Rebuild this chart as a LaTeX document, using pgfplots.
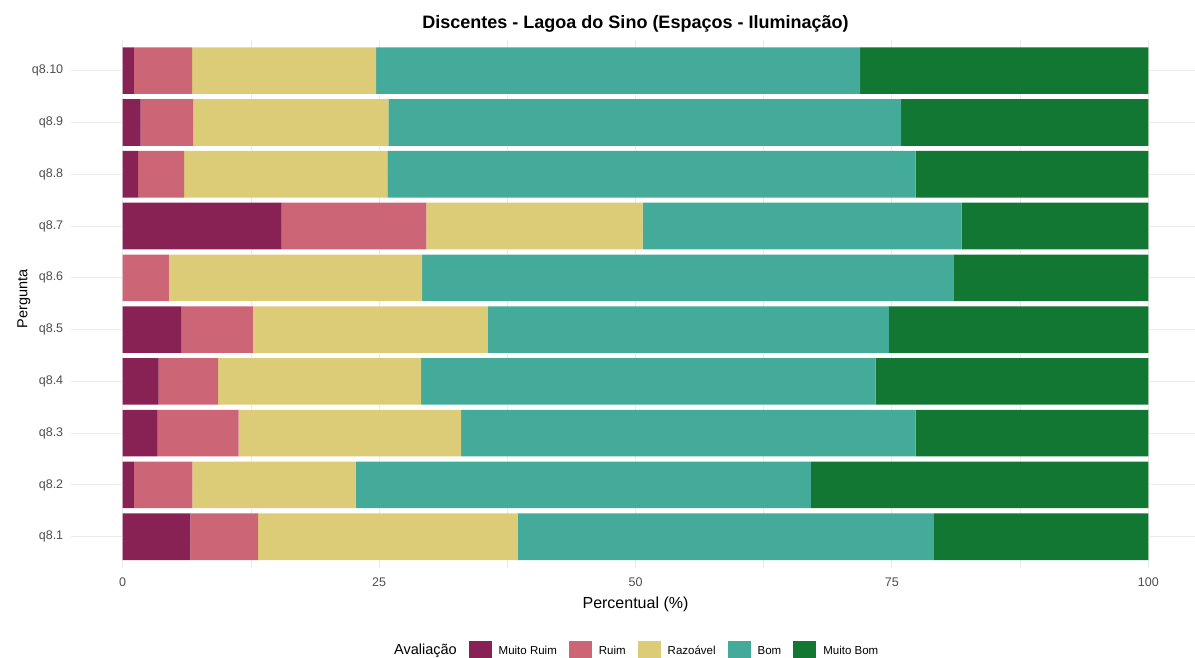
\documentclass[border=0pt]{standalone}
\usepackage{pgfplots}
\pgfplotsset{compat=1.18}
\usepackage{fontspec}
\setmainfont{Liberation Sans}
\definecolor{mr}{HTML}{882255}
\definecolor{ru}{HTML}{CC6677}
\definecolor{rz}{HTML}{DDCC77}
\definecolor{bo}{HTML}{44AA99}
\definecolor{mb}{HTML}{117733}
\definecolor{tickgray}{HTML}{4D4D4D}
\definecolor{gridgray}{HTML}{EBEBEB}
\pgfplotsset{mylegend/.style={legend image code/.code={\fill[##1] (0bp,-11bp) rectangle (23bp,11bp);}}}
\begin{document}
\begin{tikzpicture}
\useasboundingbox (0,0) rectangle (1195bp,658bp);
\begin{axis}[
  at={(71.4bp,90.2bp)}, anchor=south west,
  scale only axis, width=1128.2bp, height=528.2bp,
  xbar stacked, bar width=0.9,
  xmin=-5, xmax=105, ymin=0.4, ymax=10.6,
  xtick={0,25,50,75,100}, xticklabels={0,25,50,75,100},
  minor xtick={12.5,37.5,62.5,87.5},
  ytick={1,2,3,4,5,6,7,8,9,10},
  yticklabels={q8.1,q8.2,q8.3,q8.4,q8.5,q8.6,q8.7,q8.8,q8.9,q8.10},
  xmajorgrids, xminorgrids, ymajorgrids,
  major grid style={draw=gridgray, line width=1bp},
  minor grid style={draw=gridgray, line width=0.5bp},
  axis line style={draw=none},
  major tick length=0pt, minor tick length=0pt,
  tick style={draw=none},
  xticklabel style={font=\fontsize{12.5bp}{15bp}\selectfont, text=tickgray, inner sep=0pt, yshift=-9.5bp},
  yticklabel style={font=\fontsize{12.5bp}{15bp}\selectfont, text=tickgray, inner sep=0pt, xshift=-8bp},
  title={Discentes - Lagoa do Sino (Espaços - Iluminação)},
  title style={font=\bfseries\fontsize{18bp}{21bp}\selectfont, at={(0.5,1.0182)}, anchor=center},
  xlabel={Percentual (\%)},
  xlabel style={font=\fontsize{16bp}{19bp}\selectfont, at={(0.5,-0.0700)}, anchor=center},
  ylabel={Pergunta},
  ylabel style={font=\fontsize{14.5bp}{17bp}\selectfont, at={(-0.0420,0.509)}, anchor=center},
  legend columns=-1,
  legend style={draw=none, fill=none, at={(0.4975,-0.1590)}, anchor=center,
    font=\fontsize{11.5bp}{14bp}\selectfont,
    nodes={inner xsep=0pt, text height=9bp, text depth=3bp},
    /tikz/every odd column/.append style={column sep=7bp},
    /tikz/every even column/.append style={column sep=12bp}},
]
\addlegendimage{empty legend}
\addlegendentry{\fontsize{14.5bp}{17bp}\selectfont Avaliação}
\addplot[fill=mr, draw=none, mylegend] coordinates {(6.6,1) (1.1,2) (3.4,3) (3.5,4) (5.7,5) (0,6) (15.5,7) (1.5,8) (1.75,9) (1.1,10)};
\addlegendentry{Muito Ruim}
\addplot[fill=ru, draw=none, mylegend] coordinates {(6.6,1) (5.7,2) (7.9,3) (5.8,4) (7.0,5) (4.5,6) (14.1,7) (4.5,8) (5.15,9) (5.66,10)};
\addlegendentry{Ruim}
\addplot[fill=rz, draw=none, mylegend] coordinates {(25.3,1) (15.9,2) (21.7,3) (19.8,4) (22.9,5) (24.7,6) (21.1,7) (19.8,8) (19.0,9) (17.94,10)};
\addlegendentry{Razoável}
\addplot[fill=bo, draw=none, mylegend] coordinates {(40.6,1) (44.4,2) (44.3,3) (44.3,4) (39.1,5) (51.8,6) (31.1,7) (51.5,8) (50.0,9) (47.2,10)};
\addlegendentry{Bom}
\addplot[fill=mb, draw=none, mylegend] coordinates {(20.9,1) (32.9,2) (22.7,3) (26.6,4) (25.3,5) (19.0,6) (18.2,7) (22.7,8) (24.1,9) (28.1,10)};
\addlegendentry{Muito Bom}
\end{axis}
\end{tikzpicture}
\end{document}
